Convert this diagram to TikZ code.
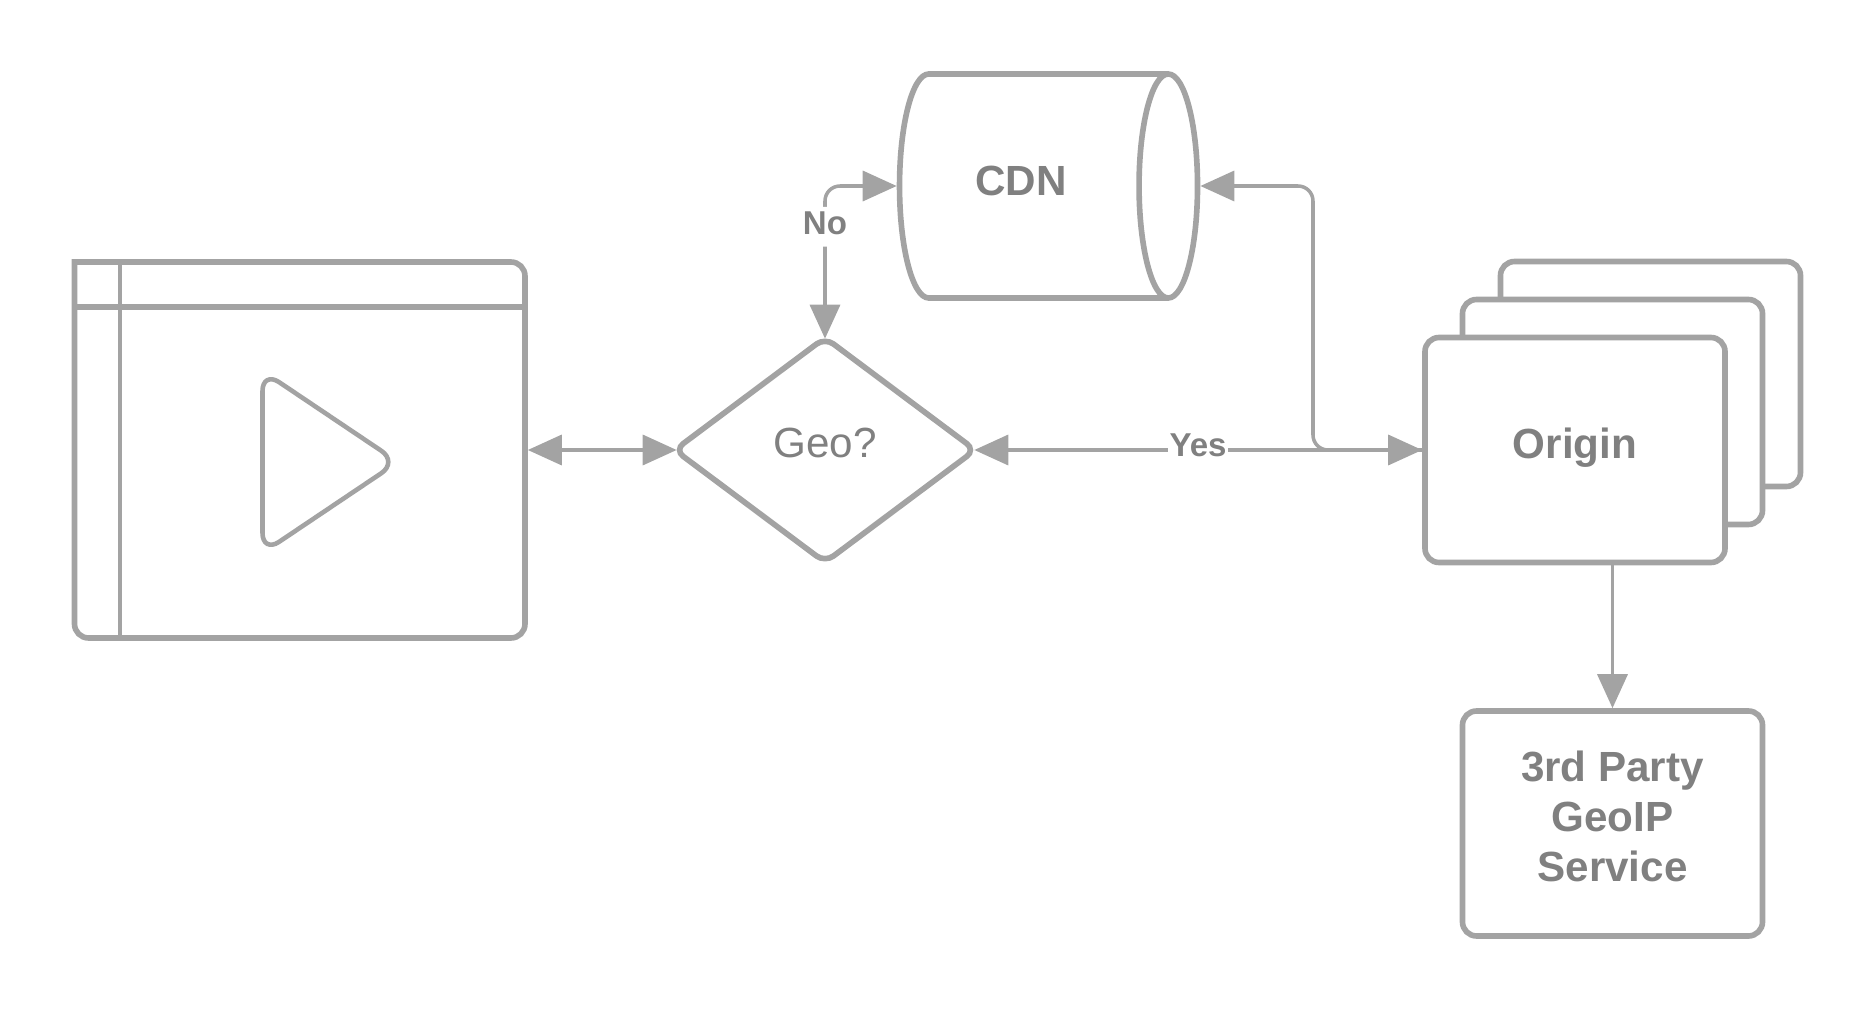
\documentclass[tikz,border=0pt]{standalone}
\usepackage{xcolor}
\usepackage{fontspec}
\setmainfont{Liberation Sans}
\usetikzlibrary{shapes.geometric,arrows.meta,positioning}
\definecolor{gris}{HTML}{A3A3A3}
\definecolor{gristexto}{HTML}{808080}
\tikzset{
  forma/.style={draw=gris,fill=white,line width=1.6pt,text=gristexto,align=center,font=\fontsize{12}{14.2}\selectfont\bfseries},
  caja/.style={forma,rectangle,rounded corners=4pt,minimum width=3cm,minimum height=2.25cm,text depth=0.14cm},
  rombo/.style={forma,diamond,rounded corners=3pt,aspect=1.33,minimum width=3.03cm,minimum height=2.27cm,font=\fontsize{12}{14.2}\selectfont,text depth=0.14cm},
  cilindro/.style={forma,cylinder,aspect=0.93,minimum height=2.98cm,minimum width=2.24cm,text depth=0.1cm},
  flecha/.style={draw=gris,line width=1pt,{Triangle[length=3.4mm,width=3mm]}-{Triangle[length=3.4mm,width=3mm]}},
  flechasola/.style={draw=gris,line width=1pt,-{Triangle[length=3.4mm,width=3mm]}},
  etiqueta/.style={font=\fontsize{9.4}{11}\selectfont\bfseries,text=gristexto,fill=white,inner xsep=0.5pt,inner ysep=1.4pt,text depth=0.07cm},
}
\begin{document}
\begin{tikzpicture}
  \useasboundingbox (0,0) rectangle (18.75,-10.13);
  \node[minimum width=4.51cm,minimum height=3.76cm,outer sep=0.8pt] (player) at (2.995,-4.5) {};
  \draw[forma,rounded corners=4pt] (0.745,-2.62) -- (5.25,-2.62) -- (5.25,-6.38) -- (0.745,-6.38) [sharp corners] -- cycle;
  \draw[forma,fill=none] (0.745,-3.07) -- (5.25,-3.07);
  \draw[forma,fill=none,line width=1.4pt] (1.20,-2.62) -- (1.20,-6.38);
  \draw[forma,line width=1.3pt,rounded corners=2mm] (2.625,-3.71) -- (3.98,-4.62) -- (2.625,-5.53) -- cycle;
  \node[rombo] (geo) at (8.25,-4.5) {Geo?};
  \node[cilindro] (cdn) at (10.26,-1.86) {CDN\hspace*{0.1cm}};
  \node[caja] (origentres) at (16.505,-3.74) {};
  \node[caja] (origendos) at (16.125,-4.12) {};
  \node[caja] (origen) at (15.75,-4.5) {Origin};
  \node[caja] (geoip) at (16.125,-8.235) {3rd Party\\GeoIP\\Service};
  \coordinate (codo) at (13.13,-1.86);
  \draw[flecha,shorten >=-0.6mm] (player) -- (geo);
  \draw[flecha,rounded corners=1.5mm,shorten <=-0.5mm] (geo.north) |- (cdn.west) node[etiqueta,pos=0.362] (no) {No};
  \draw[flecha,shorten <=-0.5mm] (geo.east) -- (origen.west) node[etiqueta,pos=0.494,yshift=0.015cm] (yes) {Yes};
  \draw[flechasola,rounded corners=1.5mm] (origen.west) -| (codo) -- (cdn.east);
  \draw[flechasola] (origen.south -| geoip.north) -- (geoip.north);
\end{tikzpicture}
\end{document}
